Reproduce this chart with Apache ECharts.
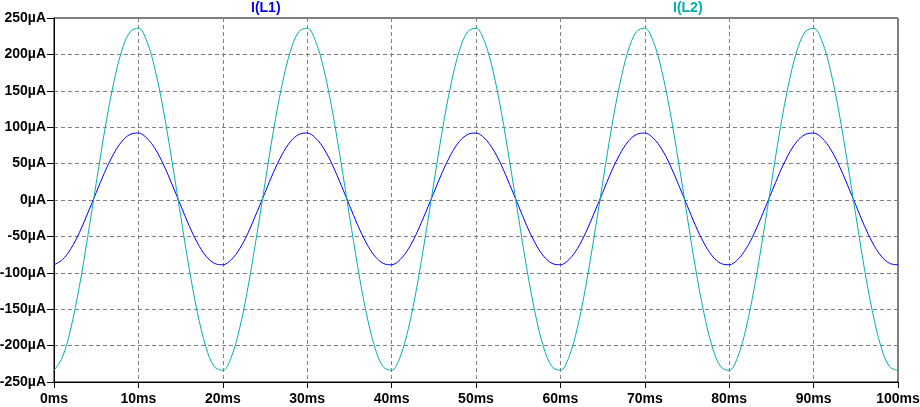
<!DOCTYPE html>
<html>
<head>
<meta charset="utf-8">
<script src="https://cdn.jsdelivr.net/npm/echarts@6/dist/echarts.min.js"></script>
<style>
html,body{margin:0;padding:0;background:#fff;}
#chart{width:920px;height:407px;}
</style>
</head>
<body>
<div id="chart"></div>
<script>
// Time samples (ms)
var timeMs = [0,1,2,3,4,5,6,7,8,9,10,11,12,13,14,15,16,17,18,19,20,21,22,23,24,25,26,27,28,29,30,31,32,33,34,35,36,37,38,39,40,41,42,43,44,45,46,47,48,49,50,51,52,53,54,55,56,57,58,59,60,61,62,63,64,65,66,67,68,69,70,71,72,73,74,75,76,77,78,79,80,81,82,83,84,85,86,87,88,89,90,91,92,93,94,95,96,97,98,99,100];

// I(L1) in µA
var iL1 = [-89,-82,-67,-45,-18,10,38,62,80,90,92,85,70,48,21,-7,-35,-59,-77,-87,
           -89,-82,-67,-45,-18,10,38,62,80,90,92,85,70,48,21,-7,-35,-59,-77,-87,
           -89,-82,-67,-45,-18,10,38,62,80,90,92,85,70,48,21,-7,-35,-59,-77,-87,
           -89,-82,-67,-45,-18,10,38,62,80,90,92,85,70,48,21,-7,-35,-59,-77,-87,
           -89,-82,-67,-45,-18,10,38,62,80,90,92,85,70,48,21,-7,-35,-59,-77,-87,
           -89];

// I(L2) in µA
var iL2 = [-234,-216,-176,-119,-50,23,95,157,204,231,236,218,178,121,52,-21,-93,-155,-202,-229,
           -234,-216,-176,-119,-50,23,95,157,204,231,236,218,178,121,52,-21,-93,-155,-202,-229,
           -234,-216,-176,-119,-50,23,95,157,204,231,236,218,178,121,52,-21,-93,-155,-202,-229,
           -234,-216,-176,-119,-50,23,95,157,204,231,236,218,178,121,52,-21,-93,-155,-202,-229,
           -234,-216,-176,-119,-50,23,95,157,204,231,236,218,178,121,52,-21,-93,-155,-202,-229,
           -234];

var seriesNames = ['I(L1)', 'I(L2)'];
var seriesColors = ['#0000ff', '#00b0b0'];

function pairs(xs, ys) {
  var out = [];
  for (var i = 0; i < xs.length; i++) out.push([xs[i], ys[i]]);
  return out;
}

var FONT = 'Liberation Sans';
var chart = echarts.init(document.getElementById('chart'), null, {renderer: 'canvas'});
chart.setOption({
  animation: false,
  backgroundColor: '#ffffff',
  title: [
    {text: seriesNames[0], left: 251, top: 1, padding: 0,
     textStyle: {fontFamily: FONT, fontSize: 14, fontWeight: 'bold', color: seriesColors[0]}},
    {text: seriesNames[1], left: 673, top: 1, padding: 0,
     textStyle: {fontFamily: FONT, fontSize: 14, fontWeight: 'bold', color: seriesColors[1]}}
  ],
  grid: {left: 54, right: 22, top: 18, bottom: 25, show: true, borderColor: '#000', borderWidth: 1,
         backgroundColor: 'transparent', containLabel: false, outerBoundsMode: 'none'},
  xAxis: {
    type: 'value', min: 0, max: 100, interval: 10,
    axisLine: {show: true, onZero: false, lineStyle: {color: '#000', width: 1}},
    axisTick: {show: true, length: 6, lineStyle: {color: '#000'}},
    axisLabel: {formatter: '{value}ms', fontFamily: FONT, fontSize: 14, fontWeight: 'bold', color: '#000', margin: 10},
    splitLine: {show: true, lineStyle: {color: '#808080', type: [4, 3], width: 1}}
  },
  yAxis: {
    type: 'value', min: -250, max: 250, interval: 50,
    axisLine: {show: true, onZero: false, lineStyle: {color: '#000', width: 1}},
    axisTick: {show: true, length: 7, lineStyle: {color: '#000'}},
    axisLabel: {formatter: '{value}µA', fontFamily: FONT, fontSize: 14, fontWeight: 'bold', color: '#000', margin: 8},
    splitLine: {show: true, lineStyle: {color: '#808080', type: [4, 3], width: 1}}
  },
  series: [
    {name: seriesNames[0], type: 'line', data: pairs(timeMs, iL1), smooth: 0.35, showSymbol: false,
     lineStyle: {color: seriesColors[0], width: 1}, itemStyle: {color: seriesColors[0]}},
    {name: seriesNames[1], type: 'line', data: pairs(timeMs, iL2), smooth: 0.35, showSymbol: false,
     lineStyle: {color: seriesColors[1], width: 1}, itemStyle: {color: seriesColors[1]}}
  ]
});
</script>
</body>
</html>
